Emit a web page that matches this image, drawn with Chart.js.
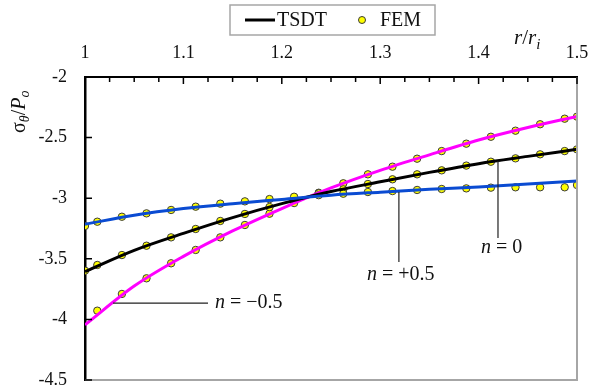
<!DOCTYPE html>
<html lang="en">
<head>
  <meta charset="UTF-8" />
  <title>Hoop stress</title>
  <style>
    body { margin: 0; background: #fff; }
    .wrap { position: relative; width: 599px; height: 390px; }
  </style>
</head>
<body>
  <div class="wrap"><canvas id="myChart"></canvas></div>
  <script src="https://cdn.jsdelivr.net/npm/chart.js@4/dist/chart.umd.min.js"></script>
  <script>
    // TSDT curves (r/ri, sigma/Po)
    const rLine = [1, 1.05, 1.1, 1.15, 1.2, 1.25, 1.3, 1.35, 1.4, 1.45, 1.5];
    const tsdtPlus = [-3.215, -3.14, -3.085, -3.045, -3.01, -2.975, -2.95, -2.927, -2.908, -2.883, -2.858];
    const tsdtZero = [-3.605, -3.43, -3.29, -3.16, -3.045, -2.945, -2.865, -2.787, -2.715, -2.655, -2.597];
    const tsdtMinus = [-4.045, -3.725, -3.48, -3.27, -3.085, -2.915, -2.77, -2.642, -2.52, -2.417, -2.325];

    // FEM points
    const rFem = [1, 1.0125, 1.0375, 1.0625, 1.0875, 1.1125, 1.1375, 1.1625, 1.1875, 1.2125, 1.2375,
      1.2625, 1.2875, 1.3125, 1.3375, 1.3625, 1.3875, 1.4125, 1.4375, 1.4625, 1.4875, 1.5];
    const femPlus = [-3.229, -3.194, -3.153, -3.125, -3.097, -3.070, -3.045, -3.026, -3.007, -2.988, -2.975,
      -2.963, -2.949, -2.941, -2.932, -2.924, -2.919, -2.913, -2.910, -2.910, -2.910, -2.891];
    const femZero = [-3.598, -3.551, -3.469, -3.392, -3.323, -3.254, -3.188, -3.130, -3.073, -3.010, -2.960,
      -2.927, -2.883, -2.844, -2.803, -2.770, -2.731, -2.699, -2.671, -2.638, -2.611, -2.597];
    const femMinus = [null, -3.928, -3.790, -3.661, -3.537, -3.427, -3.323, -3.221, -3.128, -3.040, -2.955,
      -2.877, -2.803, -2.740, -2.674, -2.611, -2.550, -2.493, -2.443, -2.390, -2.344, -2.327];

    const xTicks = [1, 1.1, 1.2, 1.3, 1.4, 1.5];
    const yTicks = [-2, -2.5, -3, -3.5, -4, -4.5];

    const SERIF = "'Liberation Serif', 'Times New Roman', serif";

    function pts(xs, ys) {
      let out = [];
      for (let i in xs) {
        if (ys[i] !== null) out.push({ x: xs[i], y: ys[i] });
      }
      return out;
    }

    function lineSet(ys, color) {
      return {
        data: pts(rLine, ys),
        showLine: true,
        borderColor: color,
        borderWidth: 3,
        pointRadius: 0,
        cubicInterpolationMode: "monotone",
        fill: false,
      };
    }

    function femSet(ys) {
      return {
        data: pts(rFem, ys),
        showLine: false,
        pointRadius: 3.7,
        pointBackgroundColor: "#ffff00",
        pointBorderColor: "#3a3a3a",
        pointBorderWidth: 1,
      };
    }

    function fmt(v) {
      return String(Math.round(v * 10) / 10);
    }

    // italic / subscript text helper
    function drawParts(ctx, parts, x, y) {
      for (let p of parts) {
        ctx.font = p.font;
        ctx.fillText(p.t, x, y + (p.dy || 0));
        x += ctx.measureText(p.t).width;
      }
    }

    const extras = {
      id: "extras",
      afterDraw(chart) {
        const ctx = chart.ctx;
        const a = chart.chartArea;
        const xs = chart.scales.x;
        const ys = chart.scales.y;
        ctx.save();

        // gray right / bottom frame
        ctx.strokeStyle = "#a6a6a6";
        ctx.lineWidth = 2;
        ctx.beginPath();
        ctx.moveTo(a.right, a.top);
        ctx.lineTo(a.right, a.bottom);
        ctx.lineTo(a.left, a.bottom);
        ctx.stroke();

        // inward ticks
        ctx.strokeStyle = "#000";
        ctx.lineWidth = 1.5;
        ctx.beginPath();
        for (let k = 0; k <= 20; k++) {
          const px = xs.getPixelForValue(1 + k * 0.025);
          ctx.moveTo(px, a.top);
          ctx.lineTo(px, a.top + (k % 4 === 0 ? 7 : 5));
        }
        for (let v of yTicks) {
          const py = ys.getPixelForValue(v);
          ctx.moveTo(a.left, py);
          ctx.lineTo(a.left + 7, py);
        }
        ctx.stroke();

        // leader lines
        ctx.strokeStyle = "#222";
        ctx.lineWidth = 1.2;
        ctx.beginPath();
        let x0 = xs.getPixelForValue(1.4197);
        ctx.moveTo(x0, ys.getPixelForValue(-2.693));
        ctx.lineTo(x0, ys.getPixelForValue(-3.328));
        let x1 = xs.getPixelForValue(1.319);
        ctx.moveTo(x1, ys.getPixelForValue(-2.949));
        ctx.lineTo(x1, ys.getPixelForValue(-3.527));
        let y2 = ys.getPixelForValue(-3.865);
        ctx.moveTo(xs.getPixelForValue(1.0285), y2);
        ctx.lineTo(xs.getPixelForValue(1.125), y2);
        ctx.stroke();

        ctx.fillStyle = "#111";
        ctx.textBaseline = "middle";
        ctx.textAlign = "left";
        const it = "italic 20px " + SERIF;
        const rm = "20px " + SERIF;
        drawParts(ctx, [{ t: "n", font: it }, { t: " = 0", font: rm }],
          xs.getPixelForValue(1.4025), ys.getPixelForValue(-3.41));
        drawParts(ctx, [{ t: "n", font: it }, { t: " = +0.5", font: rm }],
          xs.getPixelForValue(1.2865), ys.getPixelForValue(-3.634));
        drawParts(ctx, [{ t: "n", font: it }, { t: " = \u22120.5", font: rm }],
          xs.getPixelForValue(1.1321), y2);

        // axis titles
        ctx.textBaseline = "alphabetic";
        drawParts(ctx, [
          { t: "r", font: "italic 21px " + SERIF },
          { t: "/", font: "21px " + SERIF },
          { t: "r", font: "italic 21px " + SERIF },
          { t: "i", font: "italic 15px " + SERIF, dy: 5 },
        ], 514, 44);

        ctx.save();
        ctx.translate(25, 133);
        ctx.rotate(-Math.PI / 2);
        drawParts(ctx, [
          { t: "\u03c3", font: "20px " + SERIF },
          { t: "\u03b8", font: "italic 14px " + SERIF, dy: 4 },
          { t: "/", font: "20px " + SERIF },
          { t: "P", font: "italic 20px " + SERIF },
          { t: "o", font: "italic 14px " + SERIF, dy: 4 },
        ], 0, 0);
        ctx.restore();

        // legend
        ctx.strokeStyle = "#a6a6a6";
        ctx.lineWidth = 1.5;
        ctx.fillStyle = "#fff";
        ctx.fillRect(230, 5, 205, 30);
        ctx.strokeRect(230, 5, 205, 30);
        ctx.strokeStyle = "#000";
        ctx.lineWidth = 3;
        ctx.beginPath();
        ctx.moveTo(245, 20);
        ctx.lineTo(275, 20);
        ctx.stroke();
        ctx.fillStyle = "#ffff00";
        ctx.strokeStyle = "#3a3a3a";
        ctx.lineWidth = 1;
        ctx.beginPath();
        ctx.arc(362, 20, 3.5, 0, Math.PI * 2);
        ctx.fill();
        ctx.stroke();
        ctx.fillStyle = "#111";
        ctx.textBaseline = "middle";
        ctx.font = "20px " + SERIF;
        ctx.fillText("TSDT", 277, 21);
        ctx.fillText("FEM", 380, 21);

        ctx.restore();
      },
    };

    const ctx = document.getElementById("myChart").getContext("2d");
    const myChart = new Chart(ctx, {
      type: "scatter",
      data: {
        datasets: [
          lineSet(tsdtPlus, "#0a4bd2"),
          lineSet(tsdtZero, "#000000"),
          lineSet(tsdtMinus, "#ff00ff"),
          femSet(femPlus),
          femSet(femZero),
          femSet(femMinus),
        ],
      },
      options: {
        responsive: true,
        maintainAspectRatio: false,
        animation: false,
        layout: { padding: { top: 0, left: 0, right: 22, bottom: 10 } },
        plugins: { legend: { display: false }, tooltip: { enabled: false } },
        scales: {
          x: {
            type: "linear",
            position: "top",
            min: 1,
            max: 1.5,
            afterFit(scale) {
              scale.height = 77;
              scale.paddingLeft = 0;
              scale.paddingRight = 0;
            },
            afterBuildTicks(scale) { scale.ticks = xTicks.map(v => ({ value: v })); },
            grid: { display: false, drawTicks: false },
            border: { color: "#000", width: 2 },
            ticks: { padding: 13, color: "#111", font: { family: SERIF, size: 18 }, callback: fmt },
          },
          y: {
            type: "linear",
            min: -4.5,
            max: -2,
            afterFit(scale) {
              scale.width = 85;
              scale.paddingTop = 0;
              scale.paddingBottom = 0;
            },
            afterBuildTicks(scale) { scale.ticks = yTicks.map(v => ({ value: v })); },
            grid: { display: false, drawTicks: false },
            border: { color: "#000", width: 2.5 },
            ticks: { padding: 18, color: "#111", font: { family: SERIF, size: 18 }, callback: fmt },
          },
        },
      },
      plugins: [extras],
    });
  </script>
</body>
</html>
